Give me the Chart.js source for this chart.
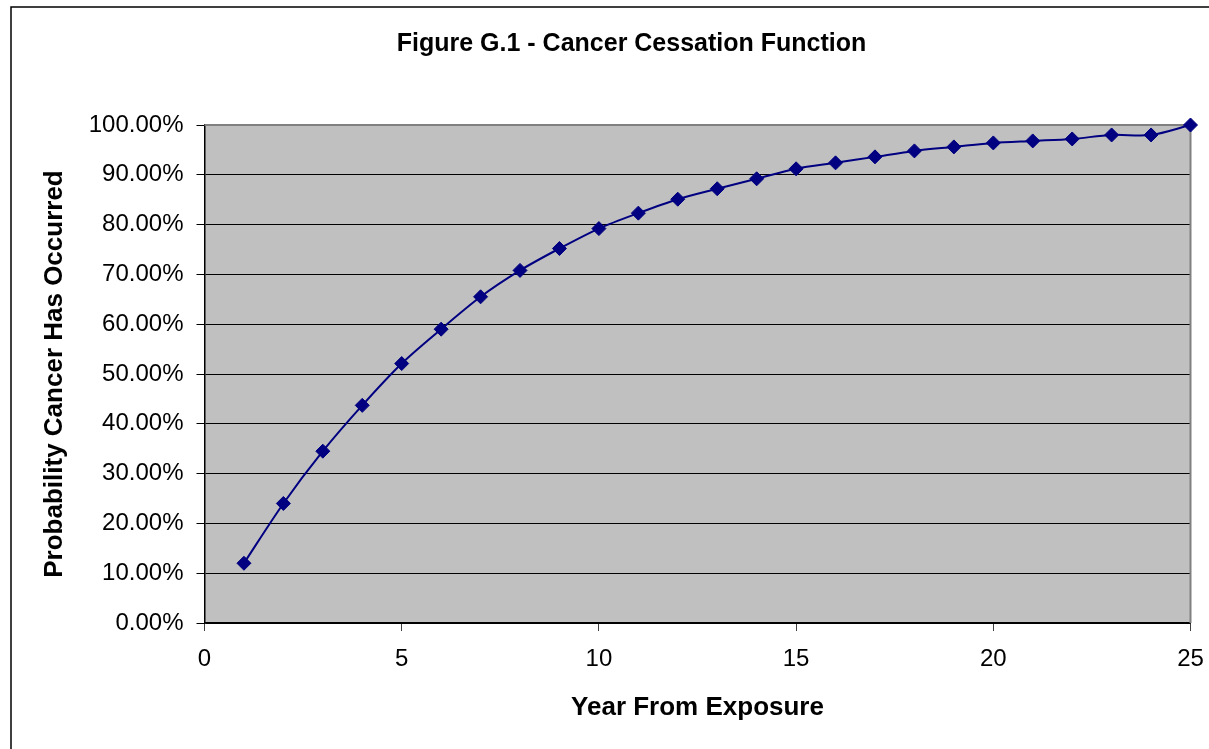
<!DOCTYPE html>
<html>
<head>
<meta charset="utf-8">
<title>Cancer Cessation Function</title>
<script src="https://cdn.jsdelivr.net/npm/chart.js@4/dist/chart.umd.min.js"></script>
<style>
  html, body { margin: 0; padding: 0; background: #fff; }
  #wrap { width: 1209px; height: 749px; position: relative; }
</style>
</head>
<body>
<div id="wrap"><canvas id="cessationChart" width="1209" height="749"></canvas></div>
<script>
// years after exposure and cumulative probability (%)
const years = [1, 2, 3, 4, 5, 6, 7, 8, 9, 10, 11, 12, 13, 14, 15, 16, 17, 18, 19, 20, 21, 22, 23, 24, 25];
const probability = [12.0, 24.0, 34.5, 43.7, 52.1, 59.0, 65.5, 70.8, 75.2, 79.2, 82.3, 85.1, 87.2, 89.2, 91.2,
  92.4, 93.6, 94.8, 95.6, 96.4, 96.8, 97.2, 98.0, 98.0, 100.0];
const xTicks = [0, 5, 10, 15, 20, 25];
const yTicks = [0, 10, 20, 30, 40, 50, 60, 70, 80, 90, 100];

const FONT = '"Liberation Sans", Arial, sans-serif';

// grey plot area plus the frame round the whole figure
const framePlugin = {
  id: 'frame',
  beforeDraw(chart) {
    const { ctx, chartArea: a } = chart;
    ctx.save();
    ctx.strokeStyle = '#000';
    ctx.lineWidth = 1.5;
    ctx.strokeRect(11, 7, 1400, 900);
    ctx.fillStyle = '#c0c0c0';
    ctx.fillRect(a.left, a.top, a.right - a.left, a.bottom - a.top);
    ctx.restore();
  },
  beforeDatasetsDraw(chart) {
    const { ctx, chartArea: a } = chart;
    ctx.save();
    ctx.strokeStyle = '#808080';
    ctx.lineWidth = 2;
    ctx.beginPath();
    ctx.moveTo(a.left, a.top);
    ctx.lineTo(a.right, a.top);
    ctx.lineTo(a.right, a.bottom);
    ctx.stroke();
    ctx.restore();
  }
};

const ctx = document.getElementById('cessationChart').getContext('2d');
const chart = new Chart(ctx, {
  type: 'line',
  data: {
    datasets: [{
      label: 'Probability',
      data: years.map((yr, i) => ({ x: yr, y: probability[i] })),
      borderColor: '#000080',
      backgroundColor: '#000080',
      borderWidth: 2,
      tension: 0.3,
      pointStyle: 'rectRot',
      pointRadius: 7,
      pointBorderWidth: 1,
      pointBackgroundColor: '#000080',
      pointBorderColor: '#000080',
      clip: false
    }]
  },
  options: {
    responsive: false,
    animation: false,
    // left padding shifts the centred title to sit over the middle of the figure
    layout: { padding: { left: 72.5, right: 18.5, top: 0, bottom: 0 } },
    plugins: {
      legend: { display: false },
      tooltip: { enabled: false },
      title: {
        display: true,
        text: 'Figure G.1 - Cancer Cessation Function',
        color: '#000',
        font: { family: FONT, size: 25, weight: 'bold', lineHeight: 1.2 },
        padding: { top: 29, bottom: 66 }
      }
    },
    scales: {
      x: {
        type: 'linear',
        min: 0,
        max: 25,
        afterBuildTicks: s => { s.ticks = xTicks.map(v => ({ value: v })); },
        afterFit: s => { s.height = 126; s.paddingLeft = 0; s.paddingRight = 0; },
        ticks: {
          color: '#000',
          font: { family: FONT, size: 24 },
          padding: 14,
          maxRotation: 0
        },
        grid: {
          drawOnChartArea: false,
          drawTicks: true,
          tickLength: 8,
          tickColor: '#404040'
        },
        border: { color: '#000', width: 1.5 },
        title: {
          display: true,
          text: 'Year From Exposure',
          color: '#000',
          font: { family: FONT, size: 26, weight: 'bold', lineHeight: 1.2 },
          padding: { top: 0, bottom: 26 }
        }
      },
      y: {
        min: 0,
        max: 100,
        afterBuildTicks: s => { s.ticks = yTicks.map(v => ({ value: v })); },
        afterFit: s => { s.width = 132; },
        ticks: {
          color: '#000',
          font: { family: FONT, size: 24 },
          padding: 13,
          callback: v => v.toFixed(2) + '%'
        },
        grid: {
          color: c => (c.tick && c.tick.value === 100) ? 'rgba(0,0,0,0)' : '#000',
          lineWidth: 1,
          drawTicks: true,
          tickLength: 8,
          tickColor: '#000'
        },
        border: { color: '#000', width: 1.5 },
        title: {
          display: true,
          text: 'Probability Cancer Has Occurred',
          color: '#000',
          font: { family: FONT, size: 26, weight: 'bold', lineHeight: 1.2 },
          // negative so the title lands left of the scale box, near the frame
          padding: { top: -33.5, bottom: 0 }
        }
      }
    }
  },
  plugins: [framePlugin]
});
</script>
</body>
</html>
